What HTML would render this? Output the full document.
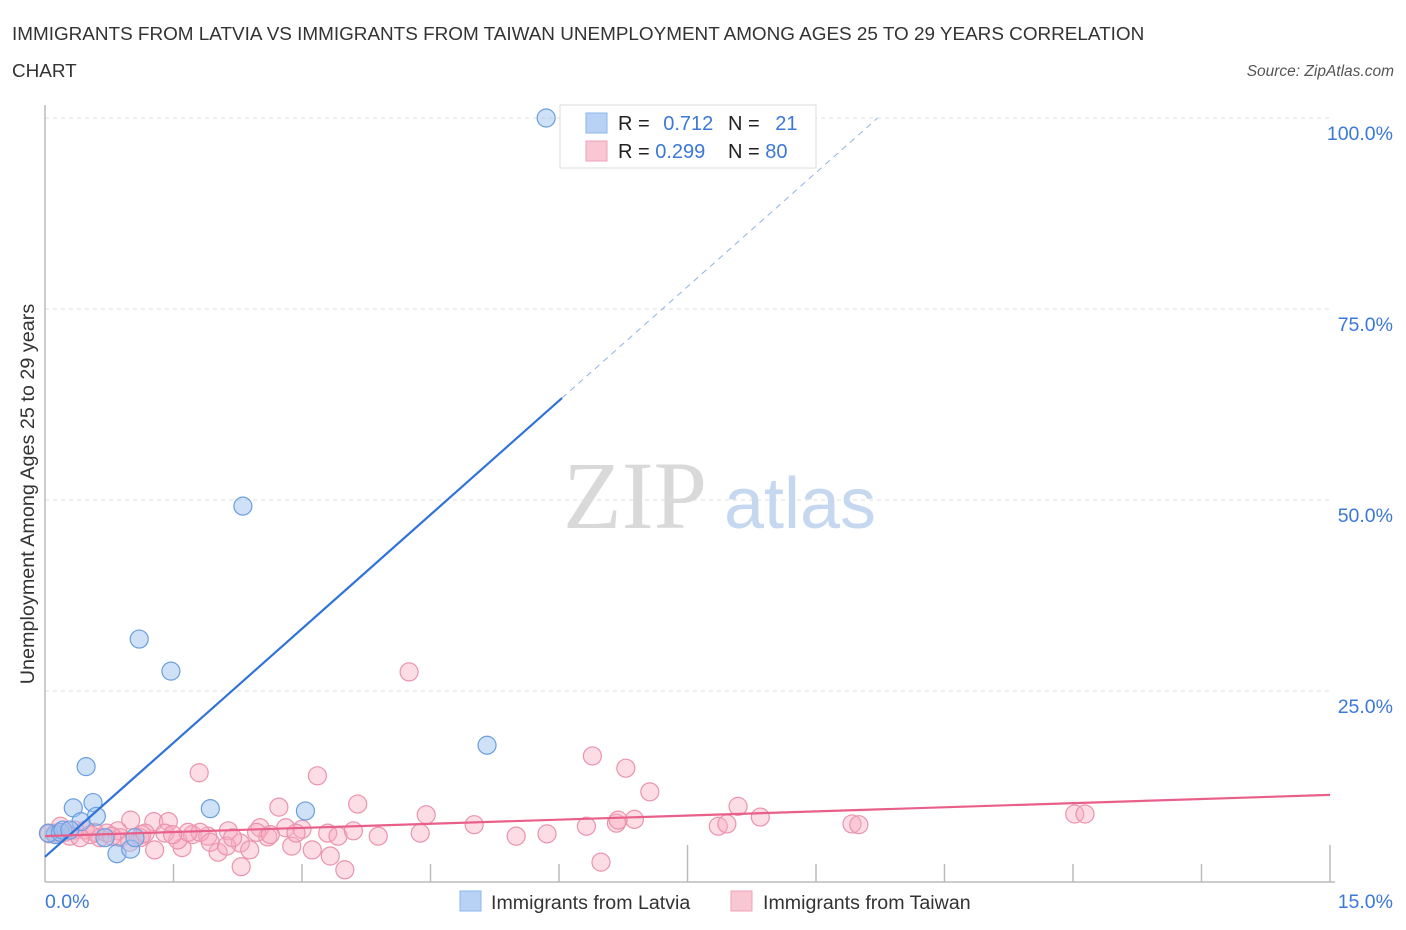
<!DOCTYPE html>
<html><head><meta charset="utf-8">
<style>
body{margin:0;background:#fff;font-family:"Liberation Sans",sans-serif;}
svg{display:block}
</style></head>
<body>
<svg id="chart" width="1406" height="930">
<text x="12" y="40" font-size="18.9" fill="#333">IMMIGRANTS FROM LATVIA VS IMMIGRANTS FROM TAIWAN UNEMPLOYMENT AMONG AGES 25 TO 29 YEARS CORRELATION</text>
<text x="12" y="77" font-size="18.9" fill="#333">CHART</text>
<text x="1394" y="76" font-size="15.5" fill="#555" font-style="italic" text-anchor="end">Source: ZipAtlas.com</text>
<g id="grid"></g>
<g>
<text x="635" y="528" font-size="96" fill="#d9d9d9" text-anchor="middle" font-family="Liberation Serif,serif">ZIP</text>
<text x="800" y="528" font-size="72" fill="#c5d8ef" text-anchor="middle">atlas</text>
</g>
<text transform="translate(34,494) rotate(-90)" font-size="19.8" fill="#333" text-anchor="middle">Unemployment Among Ages 25 to 29 years</text>
<g id="marks"></g>
<g>
<rect x="560" y="105" width="256" height="63" fill="#fff" stroke="#ddd"/>
<rect x="586" y="113" width="21" height="20" fill="#b7d2f5" stroke="#8db5ea"/>
<rect x="586" y="141" width="21" height="20" fill="#f9c6d4" stroke="#eea3b8"/>
<text x="618" y="130" font-size="20" fill="#222">R = <tspan fill="#3b78d8" dx="8">0.712</tspan></text>
<text x="728" y="130" font-size="20" fill="#222">N = <tspan fill="#3b78d8" dx="10">21</tspan></text>
<text x="618" y="158" font-size="20" fill="#222">R = <tspan fill="#3b78d8">0.299</tspan></text>
<text x="728" y="158" font-size="20" fill="#222">N = <tspan fill="#3b78d8">80</tspan></text>
</g>
<g>
<rect x="460" y="891" width="21" height="20" fill="#b7d2f5" stroke="#8db5ea"/>
<text x="491" y="909" font-size="19.6" fill="#333">Immigrants from Latvia</text>
<rect x="731" y="891" width="21" height="20" fill="#f9c6d4" stroke="#eea3b8"/>
<text x="763" y="909" font-size="19.6" fill="#333">Immigrants from Taiwan</text>
</g>
</svg>
<script>
const yTicks=[25,50,75,100];
const yTickLabels=["25.0%","50.0%","75.0%","100.0%"];
const xTicks=[1.5,3,4.5,6,7.5,9,10.5,12,13.5,15];
const latviaX=[5.85,2.31,1.10,1.47,5.16,0.48,0.56,0.33,0.60,1.93,3.04,0.42,0.84,1.00,0.70,1.05,0.12,0.04,0.18,0.21,0.29];
const latviaY=[100,49.2,31.8,27.6,17.9,15.1,10.4,9.7,8.6,9.6,9.3,7.9,3.7,4.3,5.8,5.8,6.2,6.4,6.5,6.8,6.8];
const taiwanX=[4.25,6.39,6.78,7.06,1.80,3.18,8.09,8.35,3.65,2.73,4.45,5.01,5.50,5.86,6.32,6.67,6.88,6.69,7.86,7.96,9.42,9.50,12.02,12.14,6.49,3.50,2.29,3.33,1.27,1.44,1.00,0.85,0.72,0.58,0.47,0.35,0.23,0.12,0.05,1.13,1.28,1.60,1.72,1.90,2.02,2.14,2.28,2.39,2.51,2.60,2.81,2.88,3.00,3.12,3.30,3.42,3.60,3.89,4.38,1.81,1.93,1.11,0.88,0.64,0.99,1.40,1.55,1.67,2.12,2.47,2.63,2.93,0.18,0.29,0.53,0.41,0.78,1.17,1.49,2.19];
const taiwanY=[27.5,16.5,14.9,11.8,14.3,13.9,9.9,8.5,10.2,9.8,8.8,7.5,6.0,6.3,7.3,7.7,8.2,8.1,7.3,7.6,7.6,7.5,8.9,8.9,2.6,1.6,2.0,3.4,7.9,7.9,8.1,6.7,6.4,6.5,6.8,6.8,6.5,6.4,6.3,6.2,4.2,4.5,6.2,6.0,3.9,6.7,5.1,4.2,7.1,5.9,7.1,4.7,6.9,4.2,6.4,6.0,6.7,6.0,6.4,6.5,5.2,5.8,5.8,5.8,5.2,6.4,5.5,6.5,4.7,6.5,6.2,6.4,7.3,6.0,6.2,5.8,6.0,6.4,6.2,5.8];
const latviaTrend=[3.3,9.95];
const taiwanTrend=[6.0,11.4];
const NS="http://www.w3.org/2000/svg";
const X=v=>45+v/15*1285, Y=v=>882-v/100*764;
function mk(t,a,p){const e=document.createElementNS(NS,t);for(const k in a)e.setAttribute(k,a[k]);p.appendChild(e);return e;}
const g=document.getElementById('grid'), m=document.getElementById('marks');
yTicks.forEach((t,i)=>{
 const l=mk('line',{x1:45,x2:1330,y1:Y(t),y2:Y(t),stroke:'#ddd','stroke-dasharray':'4,4'},g);
 
 
 const tx=mk('text',{x:1393,y:Y(t)+22,'font-size':19.5,fill:'#3b78d8','text-anchor':'end'},g);
 tx.textContent=yTickLabels[i];
 
 
});
const ax=mk('line',{x1:45,x2:1335,y1:882,y2:882,stroke:'#bbb','stroke-width':1.5},g);


const ay=mk('line',{x1:45,x2:45,y1:105,y2:882,stroke:'#bbb','stroke-width':1.5},g);


xTicks.forEach(t=>{
 const long=(t===7.5||t===15);
 const l=mk('line',{x1:X(t),x2:X(t),y1:long?845:864,y2:882,stroke:'#bbb','stroke-width':1.5},g);
 
 
});
const xl0=mk('text',{x:45,y:908,'font-size':19.5,fill:'#3b78d8'},g);xl0.textContent='0.0%';


const xl1=mk('text',{x:1393,y:908,'font-size':19.5,fill:'#3b78d8','text-anchor':'end'},g);xl1.textContent='15.0%';


taiwanX.forEach((x,i)=>{
 const c=mk('circle',{cx:X(x),cy:Y(taiwanY[i]),r:9,fill:'rgba(247,170,192,0.4)',stroke:'#eb93ad','stroke-width':1.2},m);
 
 
});
latviaX.forEach((x,i)=>{
 const c=mk('circle',{cx:X(x),cy:Y(latviaY[i]),r:9,fill:'rgba(160,196,240,0.5)',stroke:'#6a9ee0','stroke-width':1.2},m);
 
 
});
const xs=6.035, xe=(100-latviaTrend[0])/latviaTrend[1];
const lt=mk('line',{x1:X(0),y1:Y(latviaTrend[0]),x2:X(xs),y2:Y(latviaTrend[0]+latviaTrend[1]*xs),stroke:'#2f73d9','stroke-width':2.2},m);


const ld=mk('line',{x1:X(xs),y1:Y(latviaTrend[0]+latviaTrend[1]*xs),x2:X(xe),y2:Y(100),stroke:'#8fb3e6','stroke-width':1,'stroke-dasharray':'6,5'},m);


const tt=mk('line',{x1:X(0),y1:Y(taiwanTrend[0]),x2:X(15),y2:Y(taiwanTrend[1]),stroke:'#e8608a','stroke-width':2.2},m);


</script>
</body></html>
